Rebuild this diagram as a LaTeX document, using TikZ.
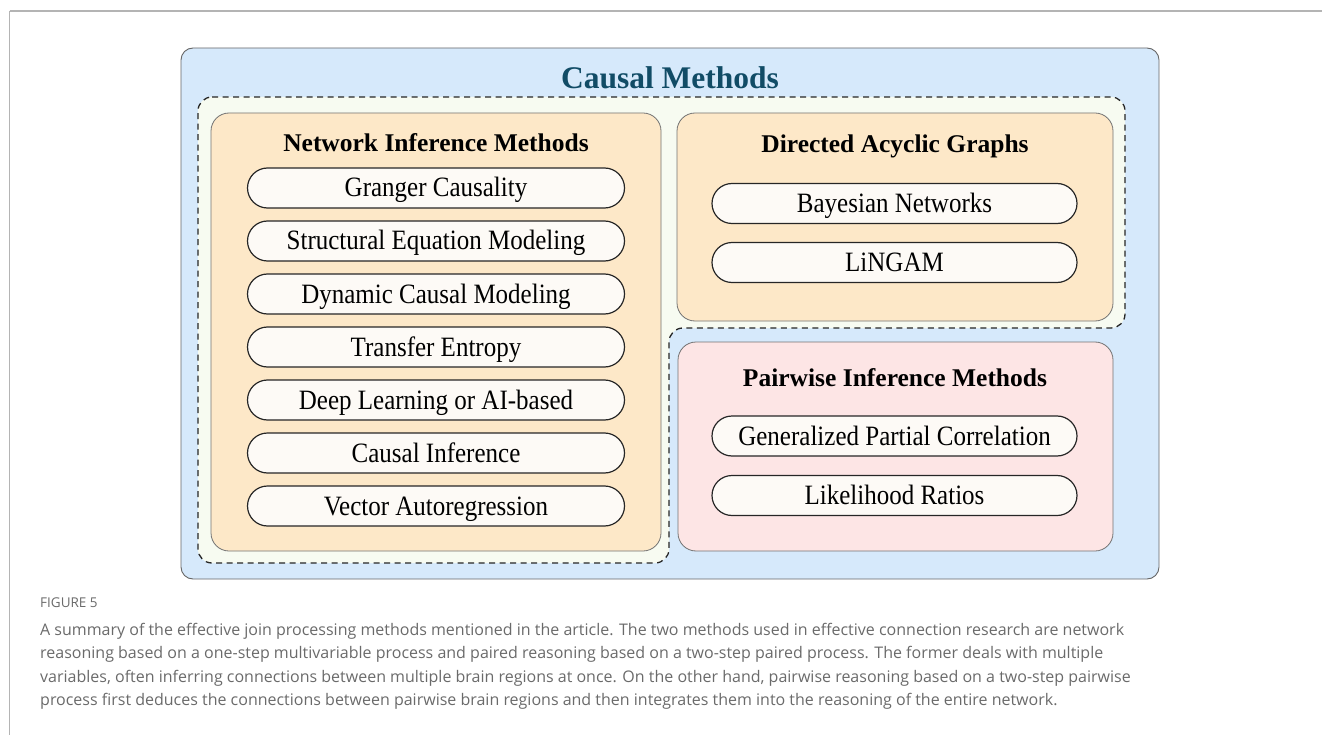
\documentclass[tikz,border=0pt]{standalone}
\usepackage{fontspec}
\setmainfont{Liberation Serif}
\newfontfamily\capfont{Open Sans}
\definecolor{outerblue}{HTML}{D6E9FB}
\definecolor{dashfill}{HTML}{F7FBF1}
\definecolor{grouporange}{HTML}{FDE8C8}
\definecolor{grouppink}{HTML}{FDE5E5}
\definecolor{pillfill}{HTML}{FDFAF6}
\definecolor{titleteal}{HTML}{114C66}
\definecolor{captiongray}{HTML}{6A6A6A}
\definecolor{rulegray}{HTML}{B4B4B4}
% slightly tall lettering for the method labels
\newcommand\tallstretch[1]{\scalebox{1}[1.12]{#1}}
\tikzset{
  groupbox/.style={draw=black!55, line width=0.8pt, rounded corners=18pt, inner sep=0pt},
  pill/.style={draw=black!85, line width=1.2pt, fill=pillfill, rounded corners=20pt,
    minimum height=40pt, inner sep=0pt, text height=22pt, text depth=4pt,
    font=\fontsize{25}{28}\selectfont},
  heading/.style={font=\fontsize{25.5}{28}\selectfont\bfseries, inner sep=0pt,
    text height=17.5pt, text depth=0.5pt},
  capline/.style={anchor=base west, inner sep=0pt, text=captiongray,
    font=\capfont\fontsize{16}{18}\selectfont}
}
\begin{document}
\begin{tikzpicture}[x=1pt, y=-1pt]
\useasboundingbox (0,0) rectangle (1322,735);
% page rules
\draw[rulegray, line width=1.2pt] (9.5,11) -- (1322,11);
\draw[rulegray, line width=1.2pt] (9.5,11) -- (9.5,735);

% outer panel
\node[draw=black!60, line width=0.9pt, fill=outerblue, rounded corners=12pt,
  minimum width=978pt, minimum height=531pt, inner sep=0pt] (outer) at (670,313.5) {};
\node[font=\fontsize{31.5}{34}\selectfont\bfseries, text=titleteal, inner sep=0pt,
  text height=22pt, text depth=0pt] (title) at (670,78) {Causal Methods};

% dashed region holding the multivariate groups
\draw[black!85, line width=1.3pt, dash pattern=on 6pt off 4.5pt, fill=dashfill, rounded corners=14pt]
  (198,97) -- (1125,97) -- (1125,328) -- (669,328) -- (669,563) -- (198,563) -- cycle;

% group panels
\node[groupbox, fill=grouporange, minimum width=450pt, minimum height=438pt] (net) at (436,332) {};
\node[groupbox, fill=grouporange, minimum width=436pt, minimum height=208pt] (dag) at (895,217) {};
\node[groupbox, fill=grouppink, minimum width=435pt, minimum height=209pt] (pair) at (895.5,446.5) {};

% network inference methods
\node[heading] (netT) at (436,143.5) {Network Inference Methods};
\node[pill, minimum width=377pt] (n1) at (436,188) {\tallstretch{Granger Causality}};
\node[pill, minimum width=377pt] (n2) at (436,241) {\tallstretch{Structural Equation Modeling}};
\node[pill, minimum width=377pt] (n3) at (436,294) {\tallstretch{Dynamic Causal Modeling}};
\node[pill, minimum width=377pt] (n4) at (436,347) {\tallstretch{Transfer Entropy}};
\node[pill, minimum width=377pt] (n5) at (436,400) {\tallstretch{Deep Learning or AI-based}};
\node[pill, minimum width=377pt] (n6) at (436,453) {\tallstretch{Causal Inference}};
\node[pill, minimum width=377pt] (n7) at (436,506) {\tallstretch{Vector Autoregression}};

% directed acyclic graphs
\node[heading] (dagT) at (895,144.5) {Directed Acyclic Graphs};
\node[pill, minimum width=365pt] (d1) at (894.5,203.5) {\tallstretch{Bayesian Networks}};
\node[pill, minimum width=365pt] (d2) at (894.5,262.5) {\tallstretch{LiNGAM}};

% pairwise inference methods
\node[heading] (pairT) at (895,377.5) {Pairwise Inference Methods};
\node[pill, minimum width=365pt] (p1) at (894.5,436) {\tallstretch{Generalized Partial Correlation}};
\node[pill, minimum width=365pt] (p2) at (894.5,495.5) {\tallstretch{Likelihood Ratios}};

% caption
\node[capline, font=\capfont\fontsize{13.5}{15}\selectfont] (figlabel) at (40,607) {FIGURE 5};
\node[capline] (c1) at (40,635) {A summary of the effective join processing methods mentioned in the article. The two methods used in effective connection research are network};
\node[capline] (c2) at (40,658.5) {reasoning based on a one-step multivariable process and paired reasoning based on a two-step paired process. The former deals with multiple};
\node[capline] (c3) at (40,682) {variables, often inferring connections between multiple brain regions at once. On the other hand, pairwise reasoning based on a two-step pairwise};
\node[capline] (c4) at (40,705.5) {process first deduces the connections between pairwise brain regions and then integrates them into the reasoning of the entire network.};
\end{tikzpicture}
\end{document}
